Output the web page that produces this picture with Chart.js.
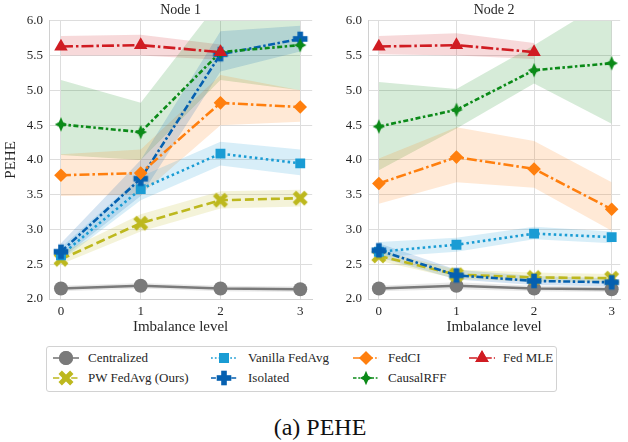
<!DOCTYPE html>
<html>
<head>
<meta charset="utf-8">
<script src="https://cdn.jsdelivr.net/npm/chart.js@4.4.1/dist/chart.umd.min.js"></script>
<style>
  html, body { margin: 0; padding: 0; background: #fff; }
  body { width: 628px; height: 442px; position: relative; overflow: hidden; font-family: "Liberation Serif", "DejaVu Serif", serif; color: #262626; }
  .panel { position: absolute; top: 0; }
  #legend { position: absolute; left: 46px; top: 346px; width: 511px; height: 46px; border: 1px solid #d2d2d2; border-radius: 3px; box-sizing: border-box; }
  .entry { position: absolute; height: 18px; display: flex; align-items: center; font-size: 13px; white-space: nowrap; }
  .entry canvas { display: block; }
  .entry span { position: absolute; line-height: 18px; }
  #caption { position: absolute; left: 6px; top: 413px; width: 628px; text-align: center; font-size: 24px; line-height: 28px; color: #111; }
</style>
</head>
<body>
<canvas id="node1" class="panel" style="left:0px" width="320" height="336"></canvas>
<canvas id="node2" class="panel" style="left:320px" width="308" height="336"></canvas>
<div id="legend"></div>
<div id="caption">(a) PEHE</div>
<script>
// Imbalance levels on the x axis and PEHE tick values on the y axis
const levels = [0, 1, 2, 3];
const yTicks = [2.0, 2.5, 3.0, 3.5, 4.0, 4.5, 5.0, 5.5, 6.0];
const methods = ['Centralized', 'PW FedAvg (Ours)', 'Vanilla FedAvg', 'Isolated', 'FedCI', 'CausalRFF', 'Fed MLE'];

// ---- Node 1: mean PEHE and confidence band (low / high) ----
const n1Centralized = [2.15, 2.19, 2.15, 2.14];
const n1CentralizedLo = [2.11, 2.15, 2.11, 2.10];
const n1CentralizedHi = [2.19, 2.23, 2.19, 2.18];

const n1PwFedAvg = [2.57, 3.09, 3.42, 3.45];
const n1PwFedAvgLo = [2.50, 2.97, 3.30, 3.33];
const n1PwFedAvgHi = [2.66, 3.22, 3.55, 3.57];

const n1Vanilla = [2.63, 3.58, 4.09, 3.95];
const n1VanillaLo = [2.55, 3.42, 3.92, 3.78];
const n1VanillaHi = [2.74, 3.76, 4.26, 4.15];

const n1Isolated = [2.68, 3.73, 5.52, 5.74];
const n1IsolatedLo = [2.58, 3.48, 5.27, 5.56];
const n1IsolatedHi = [2.80, 4.00, 5.85, 5.93];

const n1FedCI = [3.78, 3.81, 4.82, 4.76];
const n1FedCILo = [3.48, 3.50, 4.50, 4.55];
const n1FedCIHi = [4.08, 4.15, 5.22, 5.00];

const n1CausalRFF = [4.51, 4.40, 5.55, 5.65];
const n1CausalRFFLo = [4.07, 4.00, 5.15, 5.00];
const n1CausalRFFHi = [5.15, 4.82, 6.30, 6.30];

const n1FedMLE = [5.63, 5.65, 5.55, null];
const n1FedMLELo = [5.50, 5.50, 5.44, null];
const n1FedMLEHi = [5.78, 5.80, 5.66, null];

// ---- Node 2 ----
const n2Centralized = [2.15, 2.19, 2.15, 2.14];
const n2CentralizedLo = [2.11, 2.14, 2.11, 2.10];
const n2CentralizedHi = [2.19, 2.24, 2.19, 2.18];

const n2PwFedAvg = [2.62, 2.35, 2.31, 2.30];
const n2PwFedAvgLo = [2.55, 2.29, 2.25, 2.24];
const n2PwFedAvgHi = [2.70, 2.42, 2.38, 2.36];

const n2Vanilla = [2.68, 2.78, 2.94, 2.89];
const n2VanillaLo = [2.60, 2.68, 2.86, 2.80];
const n2VanillaHi = [2.82, 2.88, 3.04, 2.97];

const n2Isolated = [2.70, 2.34, 2.26, 2.24];
const n2IsolatedLo = [2.60, 2.28, 2.20, 2.18];
const n2IsolatedHi = [2.80, 2.42, 2.33, 2.30];

const n2FedCI = [3.66, 4.04, 3.87, 3.29];
const n2FedCILo = [3.37, 3.68, 3.60, 2.98];
const n2FedCIHi = [4.02, 4.47, 4.27, 3.68];

const n2CausalRFF = [4.48, 4.72, 5.29, 5.39];
const n2CausalRFFLo = [3.85, 4.45, 5.10, 4.52];
const n2CausalRFFHi = [5.12, 5.02, 5.65, 6.33];

const n2FedMLE = [5.63, 5.65, 5.55, null];
const n2FedMLELo = [5.52, 5.50, 5.45, null];
const n2FedMLEHi = [5.78, 5.82, 5.68, null];

// ---- styling per method ----
const colors = ['#7a7a7a', '#bdb81e', '#1a9cd4', '#0560b0', '#ff7f0e', '#0b8a18', '#d01c22'];
const dashes = [[], [9, 4], [2.5, 3], [7, 2.5, 2.5, 2.5], [10, 3, 2.5, 3], [5, 2.5, 2.5, 2.5], [12, 3, 2.5, 3]];
const markerKinds = ['circle', 'x', 'rect', 'plus', 'rectRot', 'star4', 'triangle'];
const markerRadius = [7, 7, 7, 7, 6.8, 7, 7.8];

function rgba(hex, a) {
  const n = parseInt(hex.slice(1), 16);
  return `rgba(${(n >> 16) & 255},${(n >> 8) & 255},${n & 255},${a})`;
}

// Custom marker glyphs (filled X, filled plus, four-point star)
function glyph(kind, color) {
  const s = 18;
  const c = document.createElement('canvas');
  c.width = s; c.height = s;
  const g = c.getContext('2d');
  g.translate(s / 2, s / 2);
  g.fillStyle = color; g.strokeStyle = color;
  if (kind === 'x') {
    g.lineWidth = 4.8; g.lineCap = 'butt';
    g.beginPath(); g.moveTo(-5.8, -5.8); g.lineTo(5.8, 5.8); g.moveTo(5.8, -5.8); g.lineTo(-5.8, 5.8); g.stroke();
  } else if (kind === 'plus') {
    g.fillRect(-7.3, -2.8, 14.6, 5.6); g.fillRect(-2.8, -7.3, 5.6, 14.6);
  } else if (kind === 'star4') {
    const o = 7.2, i = 2.2;
    g.beginPath();
    g.moveTo(0, -o); g.lineTo(i, -i); g.lineTo(o - 1, 0); g.lineTo(i, i);
    g.lineTo(0, o); g.lineTo(-i, i); g.lineTo(-(o - 1), 0); g.lineTo(-i, -i);
    g.closePath(); g.fill();
  }
  return c;
}
function pointStyleFor(k) {
  const kind = markerKinds[k];
  return (kind === 'x' || kind === 'plus' || kind === 'star4') ? glyph(kind, colors[k]) : kind;
}

function pts(arr) {
  return levels.map((x, i) => (arr[i] == null ? null : { x: x, y: arr[i] })).filter(p => p);
}

function buildDatasets(means, lows, highs) {
  const ds = [];
  means.forEach((m, k) => {
    ds.push({ data: pts(lows[k]), borderWidth: 0, pointRadius: 0, fill: false, order: 100 });
    ds.push({ data: pts(highs[k]), borderWidth: 0, pointRadius: 0, fill: '-1',
              backgroundColor: rgba(colors[k], 0.17), order: 100 });
  });
  means.forEach((m, k) => {
    ds.push({
      label: methods[k], data: pts(m), borderColor: colors[k], borderWidth: 2.6,
      borderDash: dashes[k], tension: 0, fill: false,
      pointStyle: pointStyleFor(k), pointRadius: markerRadius[k],
      pointBackgroundColor: colors[k], pointBorderColor: colors[k], pointBorderWidth: 0,
      order: 10 - k
    });
  });
  return ds;
}

const gridColor = '#dddddd';
const serif = 'Liberation Serif';
Chart.defaults.font.family = serif;

function makeChart(id, title, means, lows, highs, opts) {
  return new Chart(document.getElementById(id), {
    type: 'line',
    data: { datasets: buildDatasets(means, lows, highs) },
    options: {
      responsive: false, animation: false, events: [],
      layout: { padding: { left: 0, right: opts.padRight, top: 0, bottom: 0 } },
      plugins: {
        legend: { display: false }, tooltip: { enabled: false },
        title: { display: true, fullSize: false, text: title, color: '#262626',
                 font: { family: serif, size: 14, weight: 'normal' }, padding: { top: 2, bottom: 2 } }
      },
      scales: {
        x: {
          type: 'linear', min: opts.xMin, max: opts.xMax,
          afterBuildTicks: s => { s.ticks = levels.map(v => ({ value: v })); },
          afterFit: s => { s.height = 37; },
          grid: { color: gridColor, drawTicks: false, lineWidth: 1 },
          border: { color: '#d0d0d0' },
          ticks: { color: '#262626', padding: 5, font: { family: serif, size: 13 }, callback: v => String(v) },
          title: { display: true, text: 'Imbalance level', color: '#262626', font: { family: serif, size: 15 }, padding: { top: 0, bottom: 0 } }
        },
        y: {
          type: 'linear', min: 2, max: 6,
          afterBuildTicks: s => { s.ticks = yTicks.map(v => ({ value: v })); },
          afterFit: s => { s.width = opts.yWidth; },
          grid: { color: gridColor, drawTicks: false, lineWidth: 1 },
          border: { color: '#d0d0d0' },
          ticks: { color: '#262626', padding: 6, font: { family: serif, size: 13 }, callback: v => v.toFixed(1) },
          title: { display: opts.yTitle, text: 'PEHE', color: '#262626', font: { family: serif, size: 15 }, padding: { top: 2, bottom: 2 } }
        }
      }
    }
  });
}

makeChart('node1', 'Node 1',
  [n1Centralized, n1PwFedAvg, n1Vanilla, n1Isolated, n1FedCI, n1CausalRFF, n1FedMLE],
  [n1CentralizedLo, n1PwFedAvgLo, n1VanillaLo, n1IsolatedLo, n1FedCILo, n1CausalRFFLo, n1FedMLELo],
  [n1CentralizedHi, n1PwFedAvgHi, n1VanillaHi, n1IsolatedHi, n1FedCIHi, n1CausalRFFHi, n1FedMLEHi],
  { xMin: -0.15, xMax: 3.15, padRight: 6, yWidth: 49, yTitle: true });

makeChart('node2', 'Node 2',
  [n2Centralized, n2PwFedAvg, n2Vanilla, n2Isolated, n2FedCI, n2CausalRFF, n2FedMLE],
  [n2CentralizedLo, n2PwFedAvgLo, n2VanillaLo, n2IsolatedLo, n2FedCILo, n2CausalRFFLo, n2FedMLELo],
  [n2CentralizedHi, n2PwFedAvgHi, n2VanillaHi, n2IsolatedHi, n2FedCIHi, n2CausalRFFHi, n2FedMLEHi],
  { xMin: -0.14, xMax: 3.11, padRight: 0, yWidth: 48, yTitle: false });

// ---- legend: line sample + marker, laid out in four columns ----
const legendCols = [[0, 1], [2, 3], [4, 5], [6]];
const colLineX = [6, 164, 306, 422];
const colTextX = [41, 201, 341, 456];
const rowY = [2, 22];
const legendEl = document.getElementById('legend');
legendCols.forEach((col, ci) => {
  col.forEach((k, ri) => {
    const e = document.createElement('div');
    e.className = 'entry';
    e.style.left = colLineX[ci] + 'px';
    e.style.top = rowY[ri] + 'px';
    const cv = document.createElement('canvas');
    cv.width = 26; cv.height = 18;
    const g = cv.getContext('2d');
    g.strokeStyle = colors[k]; g.lineWidth = 1.6; g.setLineDash(dashes[k].map(d => d * 0.7));
    g.beginPath(); g.moveTo(0, 9); g.lineTo(26, 9); g.stroke();
    g.setLineDash([]);
    const ps = pointStyleFor(k);
    if (typeof ps === 'string') {
      g.fillStyle = colors[k];
      Chart.helpers.drawPoint(g, { pointStyle: ps, radius: markerRadius[k], rotation: 0, borderWidth: 0 }, 13, 9);
      g.fill();
    } else {
      g.drawImage(ps, 13 - ps.width / 2, 9 - ps.height / 2);
    }
    e.appendChild(cv);
    const sp = document.createElement('span');
    sp.textContent = methods[k];
    sp.style.left = (colTextX[ci] - colLineX[ci]) + 'px';
    e.appendChild(sp);
    legendEl.appendChild(e);
  });
});
</script>
</body>
</html>
